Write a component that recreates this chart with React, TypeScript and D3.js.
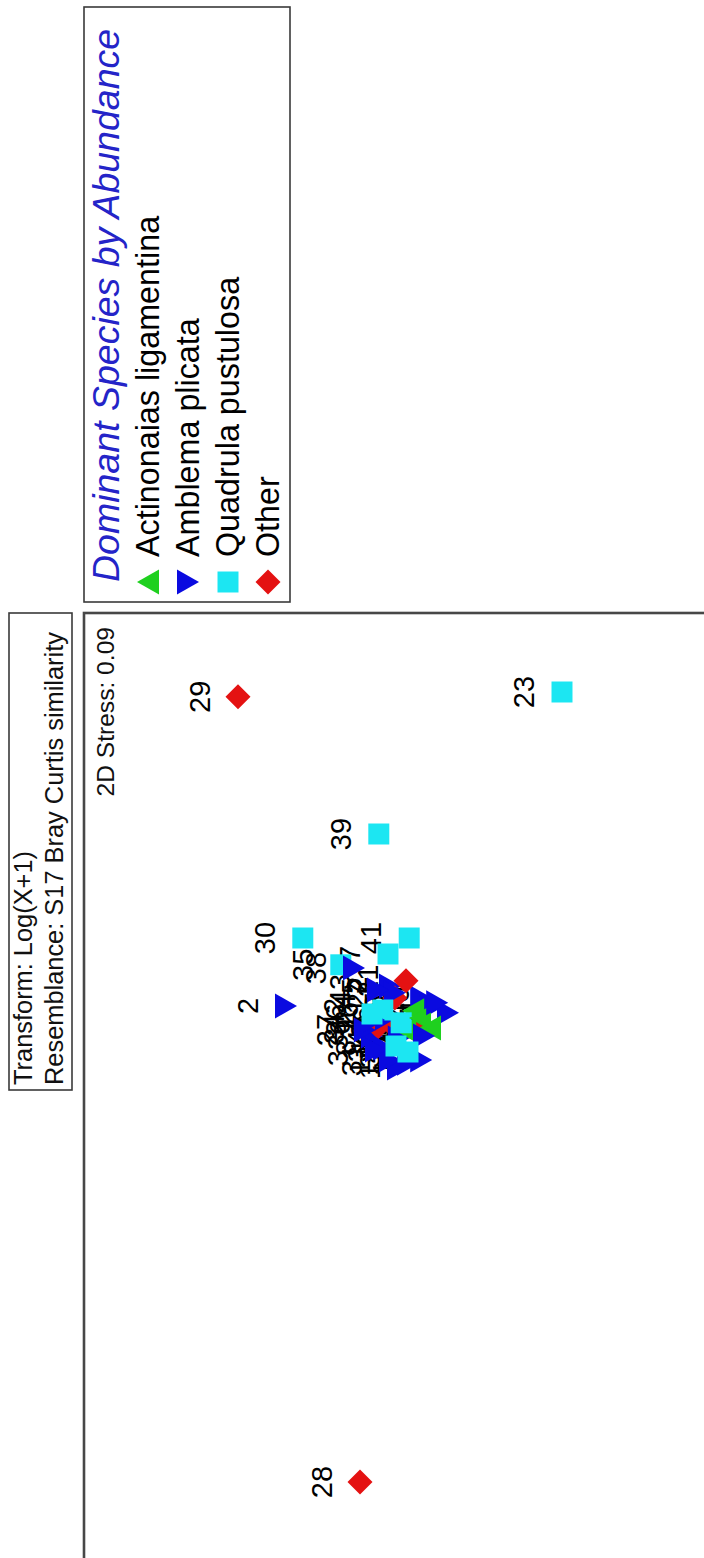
import React from 'react';
import * as d3 from 'd3';

// nMDS ordination of mussel sites (Log(X+1), Bray-Curtis)
const siteLabels = [
  '1', '2', '3', '4', '5', '6', '7', '8', '9', '10',
  '11', '12', '13', '14', '15', '16', '17', '18', '19', '20',
  '21', '22', '23', '24', '25', '26', '27', '28', '29', '30',
  '31', '32', '33', '34', '35', '36', '37', '38', '39', '40',
  '41', '42', '43',
];
const mds1 = [
  -0.025, 0.13, 0.055, 0.083, 0.18, 0.078, 0.26, 0.025, 0.15, 0.125,
  0.113, 0.05, -0.005, -0.013, 0.07, 0.1, 0.15, 0.118, 0.075, 0.07,
  0.193, 0.163, 0.915, 0.12, 0.055, 0.088, 0.07, -1.06, 0.903, 0.3,
  -0.005, 0.015, 0.02, 0.03, 0.233, 0.095, 0.1, 0.225, 0.56, 0.138,
  0.3, 0.11, 0.17,
];
const mds2 = [
  0.005, 0.285, 0.07, 0.02, 0.025, 0.055, 0.03, 0.04, -0.053, -0.075,
  -0.12, 0.003, -0.053, -0.02, -0.043, 0.035, 0.013, -0.033, -0.075, -0.013,
  -0.015, 0.013, -0.405, 0.043, -0.06, -0.003, 0.088, 0.1, 0.405, 0.243,
  0.025, -0.02, 0.06, 0.01, 0.148, 0.065, -0.05, 0.115, 0.053, -0.093,
  -0.023, 0.07, 0.055,
];
// index into speciesGroups
const dominant = [
  1, 1, 1, 3, 1, 3, 2, 1, 1, 1,
  1, 1, 1, 1, 3, 1, 3, 0, 0, 0,
  3, 1, 2, 2, 1, 2, 1, 3, 3, 2,
  1, 2, 1, 2, 2, 1, 0, 1, 2, 1,
  2, 2, 1,
];

const speciesGroups = ['Actinonaias ligamentina', 'Amblema plicata', 'Quadrula pustulosa', 'Other'];
const groupColors = ['#1fd01f', '#0a0ae0', '#1ce6f2', '#e41212'];
const groupShapes = [
  'M0,-11L12.5,11L-12.5,11Z', // upward triangle
  'M-12.5,-11L12.5,-11L0,11Z', // downward triangle
  'M-10.5,-10.5h21v21h-21Z', // square
  'M0,-12.5L12.5,0L0,12.5L-12.5,0Z', // diamond
];

const legendTitle = 'Dominant Species by Abundance';
const infoLines = ['Transform: Log(X+1)', 'Resemblance: S17 Bray Curtis similarity'];
const stressText = '2D Stress: 0.09';

const W = 704;
const H = 1558;
const FONT = '"Liberation Sans", Arial, Helvetica, sans-serif';

export default function App() {
  // layout in the unrotated frame (width H, height W)
  const x = d3.scaleLinear().domain([-1, 1]).range([100, 900]);
  const y = d3.scaleLinear().domain([-1, 1]).range([800, 0]);

  const plotRight = 945;
  const plotTop = 84;

  const sites = siteLabels.map((label, i) => ({
    label,
    cx: x(mds1[i]),
    cy: y(mds2[i]),
    g: dominant[i],
  }));

  const legendX0 = 956;
  const legendX1 = 1551;
  const legendY0 = 84;
  const legendY1 = 290;
  const itemY = d3.scaleLinear().domain([0, 1]).range([159, 199]);

  return (
    <svg
      width={W}
      height={H}
      style={{ position: 'absolute', left: 0, top: 0, background: '#fff' }}
      fontFamily={FONT}
    >
      <rect x={0} y={0} width={W} height={H} fill="#fff" />
      <g transform={`translate(0,${H}) rotate(-90)`}>
        {/* plot frame */}
        <rect x={-20} y={plotTop} width={plotRight + 20} height={W} fill="none" stroke="#474747" strokeWidth={2.6} />

        {/* info box */}
        <rect x={468} y={9} width={477} height={63} fill="#fff" stroke="#3a3a3a" strokeWidth={1.6} />
        <text x={473} y={32} fontSize={25.4} fill="#111">{infoLines[0]}</text>
        <text x={473} y={63} fontSize={25.4} fill="#111">{infoLines[1]}</text>

        {/* stress */}
        <text x={931} y={114} fontSize={24.6} textAnchor="end" fill="#111">{stressText}</text>

        {/* site labels */}
        {sites.map((s) => (
          <text key={'l' + s.label} x={s.cx} y={s.cy - 28} fontSize={29} textAnchor="middle" fill="#000">
            {s.label}
          </text>
        ))}
        {/* site symbols */}
        {sites.map((s) => (
          <path
            key={'m' + s.label}
            d={groupShapes[s.g]}
            transform={`translate(${s.cx},${s.cy})`}
            fill={groupColors[s.g]}
          />
        ))}

        {/* legend */}
        <rect
          x={legendX0}
          y={legendY0}
          width={legendX1 - legendX0}
          height={legendY1 - legendY0}
          fill="#fff"
          stroke="#3a3a3a"
          strokeWidth={1.6}
        />
        <text x={976} y={119} fontSize={37.5} fontStyle="italic" fill="#2424c8">{legendTitle}</text>
        {speciesGroups.map((name, i) => (
          <g key={name}>
            <path d={groupShapes[i]} transform={`translate(976,${itemY(i) - 11})`} fill={groupColors[i]} />
            <text x={1001} y={itemY(i)} fontSize={32.3} fill="#000">{name}</text>
          </g>
        ))}
      </g>
    </svg>
  );
}
